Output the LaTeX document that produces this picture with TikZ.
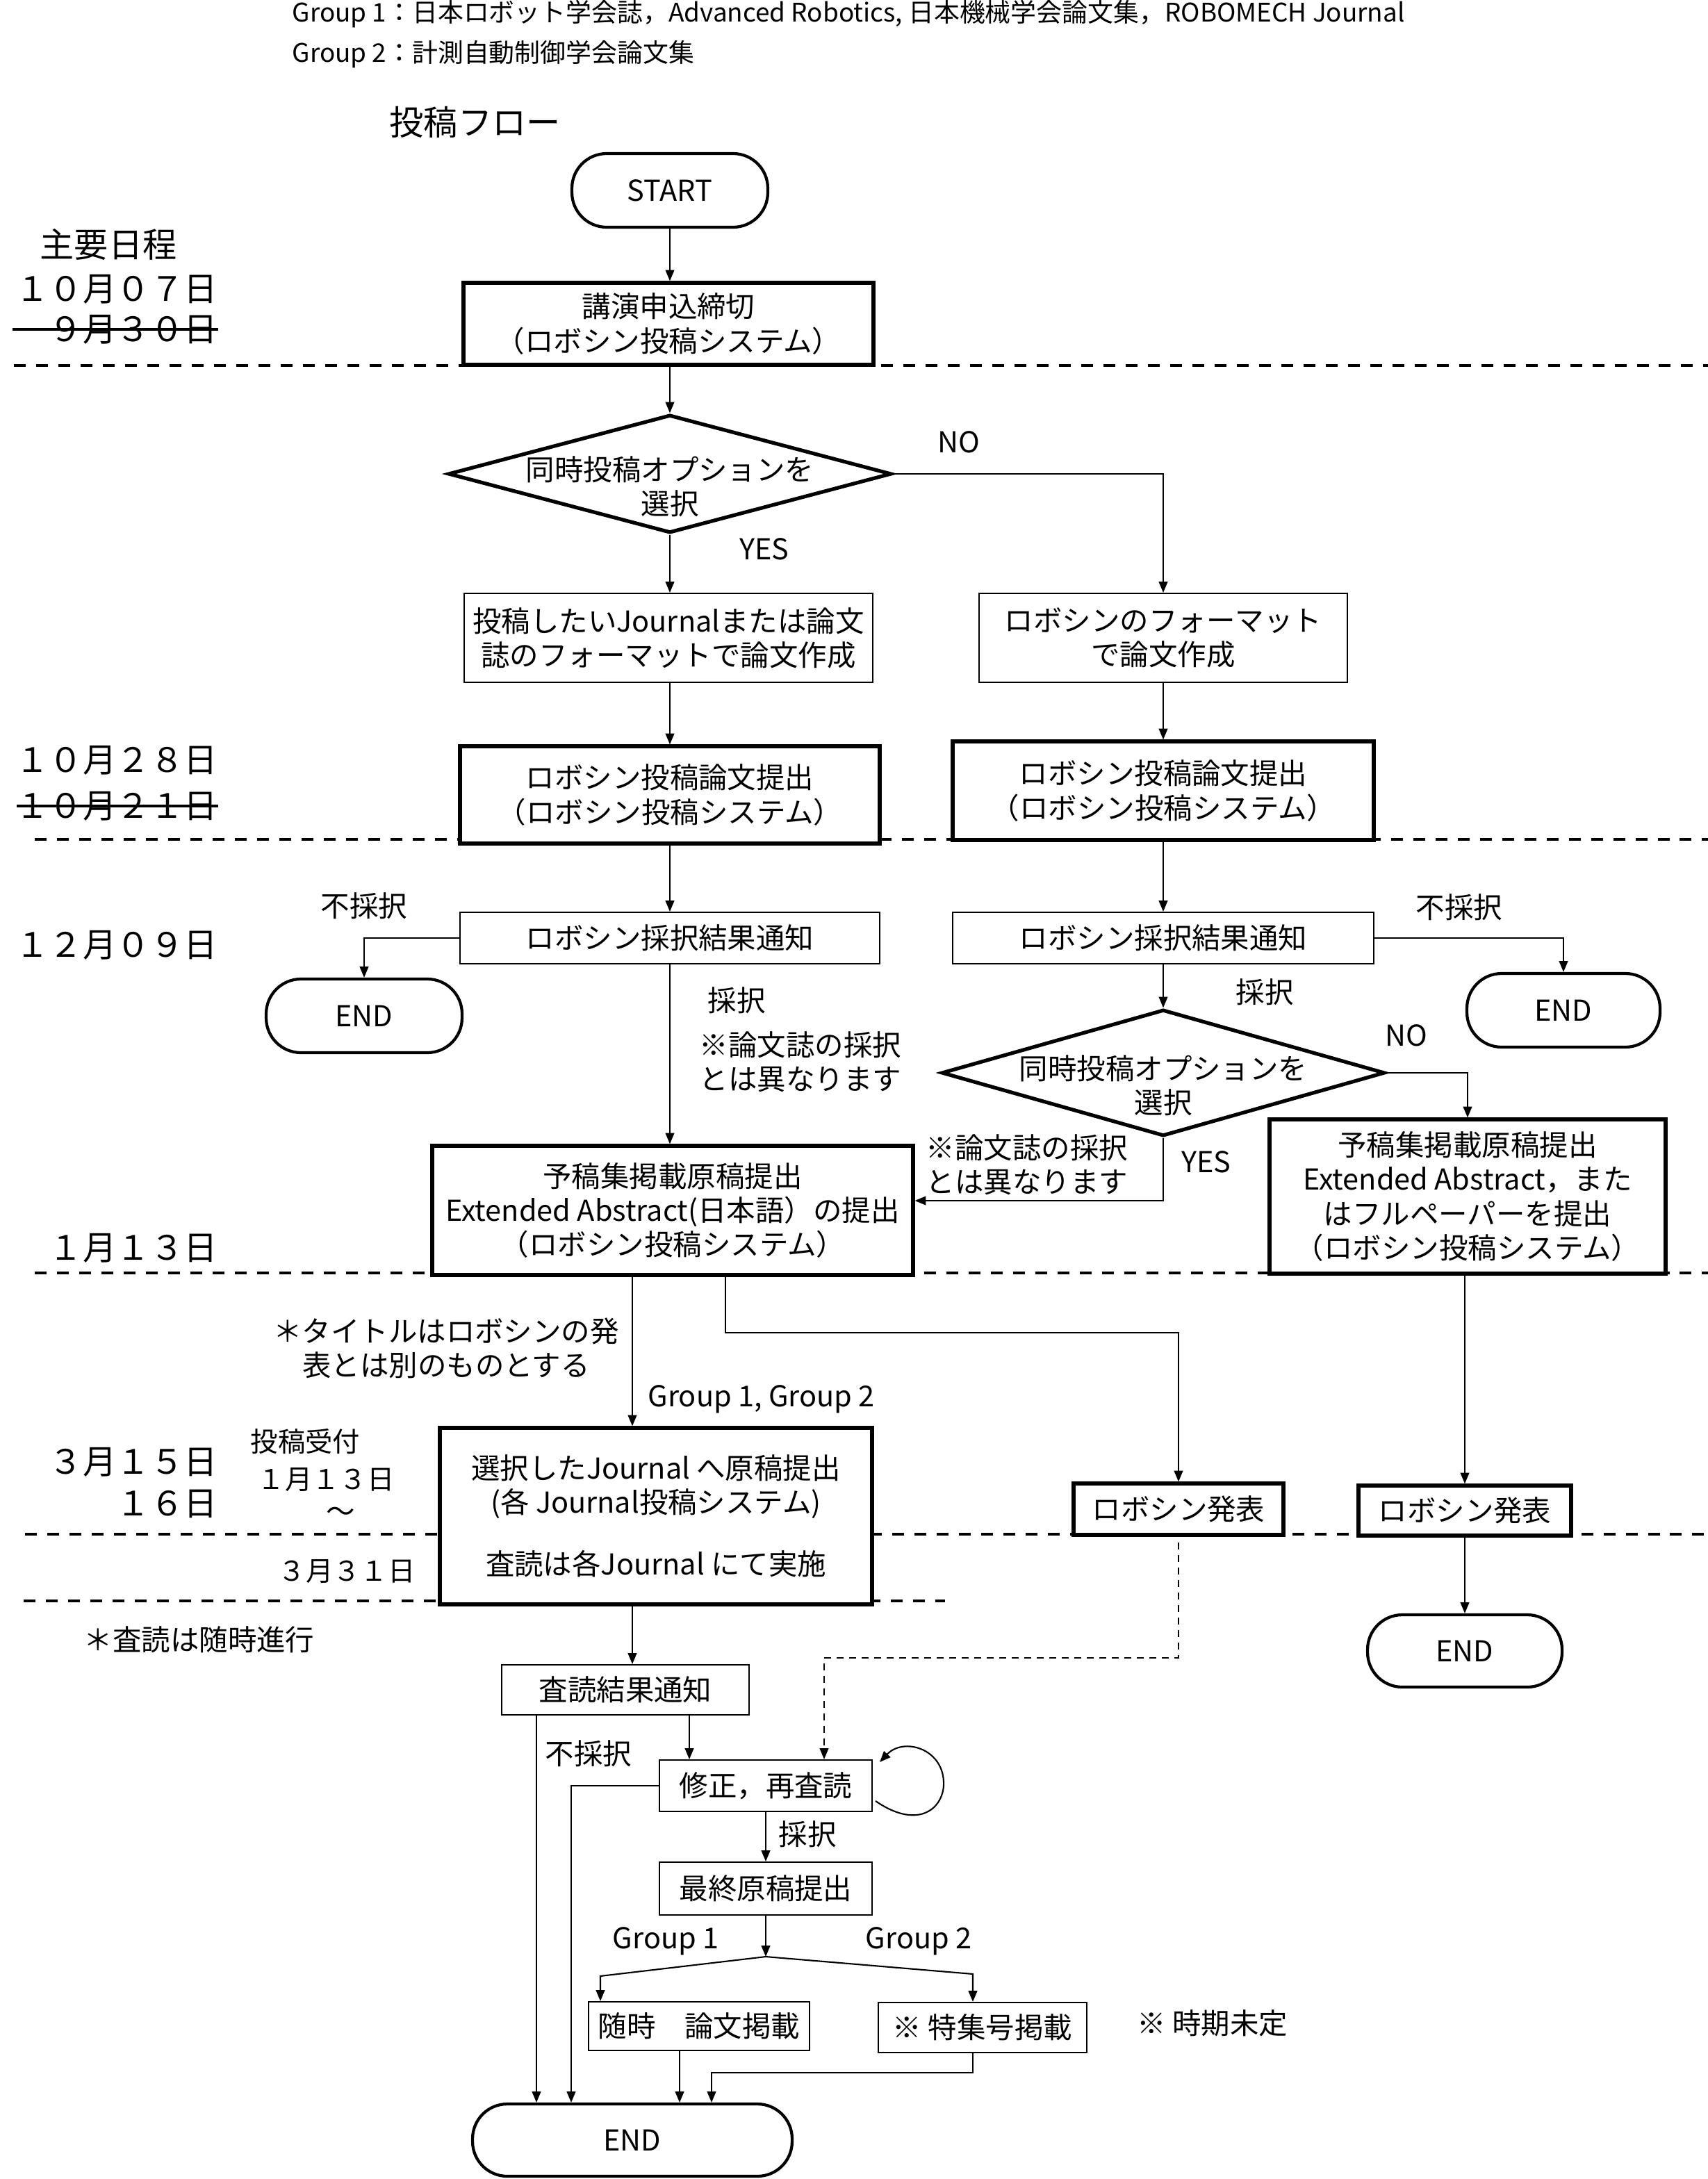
\documentclass[tikz,border=0pt]{standalone}
\usepackage{fontspec}
\setmainfont{Noto Sans CJK JP}
\usetikzlibrary{arrows.meta,shapes.geometric,calc}

\newcommand{\fstop}{\fontsize{10.5}{13}\selectfont}
\newcommand{\fsmain}{\fontsize{11.8}{14}\selectfont}
\newcommand{\fssmall}{\fontsize{11.2}{13}\selectfont}
\newcommand{\fsdate}{\fontsize{13.8}{16}\selectfont}
\newcommand{\fsbig}{\fontsize{14}{16}\selectfont}

\tikzset{
  box/.style={draw, fill=white, line width=0.6pt, align=center, inner sep=0pt, font=\fsmain},
  thickbox/.style={box, line width=1.5pt},
  term/.style={draw, fill=white, rounded corners=0.5cm, line width=1.2pt, inner sep=0pt, font=\fsmain},
  choice/.style={diamond, draw, fill=white, line width=1.5pt, inner sep=0pt},
  lbl/.style={align=center, inner sep=0pt, font=\fsmain},
  datelbl/.style={anchor=east, inner sep=0pt, font=\fsdate},
  splitline/.style={line width=1.2pt, dash pattern=on 0.17cm off 0.15cm},
  arr/.style={line width=0.6pt, -{Triangle[length=4.5pt,width=3.6pt]}},
  strike/.style={line width=1.3pt},
}

\begin{document}
\begin{tikzpicture}[x=0.02cm, y=-0.02cm]
  \useasboundingbox (0,0) rectangle (1229,1568);

  % schedule separators
  \draw[splitline] (10,263) -- (1229,263);
  \draw[splitline] (25,604) -- (1229,604);
  \draw[splitline] (25,916) -- (1229,916);
  \draw[splitline] (18,1104) -- (1229,1104);
  \draw[splitline] (17,1152) -- (680,1152);

  % header
  \node[anchor=west, inner sep=0pt, font=\fstop] (grp1) at (210,10) {Group 1：日本ロボット学会誌，Advanced Robotics, 日本機械学会論文集，ROBOMECH Journal};
  \node[anchor=west, inner sep=0pt, font=\fstop] (grp2) at (210,39) {Group 2：計測自動制御学会論文集};
  \node[anchor=west, inner sep=0pt, font=\fsbig] (flow) at (280,88) {投稿フロー};

  % dates
  \node[inner sep=0pt, font=\fsbig] (sched) at (78,176) {主要日程};
  \node[datelbl] (d1007) at (157,208) {１０月０７日};
  \node[datelbl] (d0930) at (157,237) {９月３０日};
  \draw[strike] (d0930.east) -- ++(-148,0);
  \node[datelbl] (d1028) at (157,547) {１０月２８日};
  \node[datelbl] (d1021) at (157,580) {１０月２１日};
  \draw[strike] (d1021.east) -- ++(-145,0);
  \node[datelbl] (d1209) at (157,680) {１２月０９日};
  \node[datelbl] (d0113) at (157,898) {１月１３日};
  \node[datelbl] (d0315) at (157,1052) {３月１５日};
  \node[datelbl] (d0316) at (157,1082) {１６日};
  \node[lbl, anchor=west, font=\fssmall] (recv) at (180,1037) {投稿受付};
  \node[lbl, anchor=west, font=\fssmall] (recvdate) at (185,1065) {１月１３日};
  \node[lbl] (tilde) at (245,1090) {～};
  \node[lbl, anchor=west, font=\fssmall] (d0331) at (200,1131) {３月３１日};
  \node[lbl, anchor=west] (reviewnote) at (60,1180) {＊査読は随時進行};

  % flow
  \node[term, minimum width=2.82cm, minimum height=1.06cm] (start) at (482,137) {START};
  \node[thickbox, minimum width=5.9cm, minimum height=1.18cm] (entry) at (481,233) {講演申込締切\\（ロボシン投稿システム）};
  \node[choice, minimum width=6.38cm, minimum height=1.7cm] (opt1) at (482,341) {};
  \node[lbl] (opt1txt) at (482,350) {同時投稿オプションを\\選択};
  \node[box, minimum width=5.88cm, minimum height=1.28cm] (fmtA) at (481,459) {投稿したいJournalまたは論文\\誌のフォーマットで論文作成};
  \node[box, minimum width=5.3cm, minimum height=1.28cm] (fmtB) at (837,459) {ロボシンのフォーマット\\で論文作成};
  \node[thickbox, minimum width=6.04cm, minimum height=1.4cm] (subA) at (482,572) {ロボシン投稿論文提出\\（ロボシン投稿システム）};
  \node[thickbox, minimum width=6.06cm, minimum height=1.42cm] (subB) at (837,569) {ロボシン投稿論文提出\\（ロボシン投稿システム）};
  \node[box, minimum width=6.04cm, minimum height=0.74cm] (resA) at (482,675) {ロボシン採択結果通知};
  \node[box, minimum width=6.06cm, minimum height=0.74cm] (resB) at (837,675) {ロボシン採択結果通知};
  \node[term, minimum width=2.82cm, minimum height=1.06cm] (endA) at (262,731) {END};
  \node[term, minimum width=2.78cm, minimum height=1.06cm] (endB) at (1125,727) {END};
  \node[choice, minimum width=6.38cm, minimum height=1.82cm] (opt2) at (837,772) {};
  \node[lbl] (opt2txt) at (837,781) {同時投稿オプションを\\選択};
  \node[thickbox, minimum width=6.92cm, minimum height=1.86cm] (absA) at (484,871) {予稿集掲載原稿提出\\Extended Abstract(日本語）の提出\\（ロボシン投稿システム）};
  \node[thickbox, minimum width=5.7cm, minimum height=2.22cm] (absB) at (1056,861) {予稿集掲載原稿提出\\Extended Abstract，また\\はフルペーパーを提出\\（ロボシン投稿システム）};
  \node[thickbox, minimum width=3.02cm, minimum height=0.74cm] (talkA) at (848,1086) {ロボシン発表};
  \node[thickbox, minimum width=3.06cm, minimum height=0.72cm] (talkB) at (1054,1087) {ロボシン発表};
  \node[term, minimum width=2.8cm, minimum height=1.04cm] (endC) at (1054,1188) {END};
  \node[thickbox, minimum width=6.22cm, minimum height=2.54cm] (journal) at (472,1091) {選択したJournal へ原稿提出\\(各 Journal投稿システム)\\[0.4cm]査読は各Journal にて実施};
  \node[box, minimum width=3.56cm, minimum height=0.72cm] (review) at (450,1216) {査読結果通知};
  \node[box, minimum width=3.06cm, minimum height=0.74cm] (revise) at (551,1285) {修正，再査読};
  \node[box, minimum width=3.06cm, minimum height=0.76cm] (final) at (551,1359) {最終原稿提出};
  \node[box, minimum width=3.18cm, minimum height=0.7cm] (pubA) at (503,1458) {随時　論文掲載};
  \node[box, minimum width=3.0cm, minimum height=0.72cm] (pubB) at (707,1459) {※ 特集号掲載};
  \node[term, minimum width=4.6cm, minimum height=1.04cm] (endD) at (455,1540) {END};

  % labels on the connectors
  \node[lbl] (noA) at (690,318) {NO};
  \node[lbl] (yesA) at (550,395) {YES};
  \node[lbl] (rejA) at (262,652) {不採択};
  \node[lbl] (accA) at (530,720) {採択};
  \node[lbl, anchor=west, align=left] (noteA) at (503,764) {※論文誌の採択\\とは異なります};
  \node[lbl] (rejB) at (1050,653) {不採択};
  \node[lbl] (accB) at (910,714) {採択};
  \node[lbl] (noB) at (1012,745) {NO};
  \node[lbl] (yesB) at (868,836) {YES};
  \node[lbl, anchor=west, align=left] (noteB) at (666,838) {※論文誌の採択\\とは異なります};
  \node[lbl] (titlenote) at (321,970) {＊タイトルはロボシンの発\\表とは別のものとする};
  \node[lbl, anchor=west] (grpboth) at (466,1007) {Group 1, Group 2};
  \node[lbl, anchor=west] (rejC) at (392,1262) {不採択};
  \node[lbl, anchor=west] (accC) at (560,1320) {採択};
  \node[lbl] (g1) at (479,1397) {Group 1};
  \node[lbl] (g2) at (661,1397) {Group 2};
  \node[lbl, anchor=west] (undecided) at (818,1456) {※ 時期未定};

  % connector ends
  \coordinate (fork) at (551,1408);
  \coordinate (rejX) at ($(review.south)+(-64,0)$);
  \coordinate (revX) at ($(review.south)+(46,0)$);
  \coordinate (talkX) at ($(absA.south)+(38,0)$);
  \coordinate (pubAin) at ($(pubA.north)+(-71,0)$);
  \coordinate (pubBin) at ($(pubB.north)+(-7,0)$);
  \coordinate (pubAout) at ($(pubA.south)+(-14,0)$);
  \coordinate (pubBout) at ($(pubB.south)+(-7,0)$);

  \draw[arr] (start) -- (start |- entry.north);
  \draw[arr] (entry.south -| opt1) -- (opt1.north);
  \draw[arr] (opt1.east) -| (fmtB.north);
  \draw[arr] (opt1.south) -- (fmtA.north -| opt1);
  \draw[arr] (fmtA.south -| subA) -- (subA.north);
  \draw[arr] (fmtB.south) -- (subB.north);
  \draw[arr] (subA.south) -- (resA.north);
  \draw[arr] (subB.south) -- (resB.north);
  \draw[arr] (resA.west) -| (endA.north);
  \draw[arr] (resB.east) -| (endB.north);
  \draw[arr] (resA.south) -- (resA.south |- absA.north);
  \draw[arr] (resB.south) -- (opt2.north);
  \draw[arr] (opt2.east) -| (absB.north);
  \draw[arr] (opt2.south) |- ([yshift=0.14cm]absA.east);
  \draw[arr] (absA.south -| endD) -- (journal.north -| endD);
  \draw[arr] (talkX) -- ++(0,40) -| (talkA.north);
  \draw[arr] (absB.south -| talkB) -- (talkB.north);
  \draw[arr] (talkB) -- (endC);
  \draw[arr, dash pattern=on 0.1cm off 0.08cm] ([yshift=-0.08cm]talkA.south) -- ++(0,83) -| ([xshift=0.84cm]revise.north);
  \draw[arr] (journal.south -| endD) -- (review.north -| endD);
  \draw[arr] (rejX) -- (rejX |- endD.north);
  \draw[arr] (revX) -- (revX |- revise.north);
  \draw[arr] (revise.west) -| ($(endD.north)+(-44,0)$);
  % self loop
  \draw[arr] ($(revise.east)+(2,11)$) .. controls (662,1318) and (680,1300) .. (679,1282)
    .. controls (678,1258) and (650,1250) .. ($(revise.east)+(5,-17)$);
  \draw[arr] (revise.south) -- (final.north);
  \draw[arr] (final.south) -- (fork);
  \draw[arr] (fork) -- ($(pubAin)+(0,-18)$) -- (pubAin);
  \draw[arr] (fork) -- ($(pubBin)+(0,-20)$) -- (pubBin);
  \draw[arr] (pubAout) -- (pubAout |- endD.north);
  \draw[arr] (pubBout) -- ++(0,14) -| ($(endD.north)+(57,0)$);
\end{tikzpicture}
\end{document}
